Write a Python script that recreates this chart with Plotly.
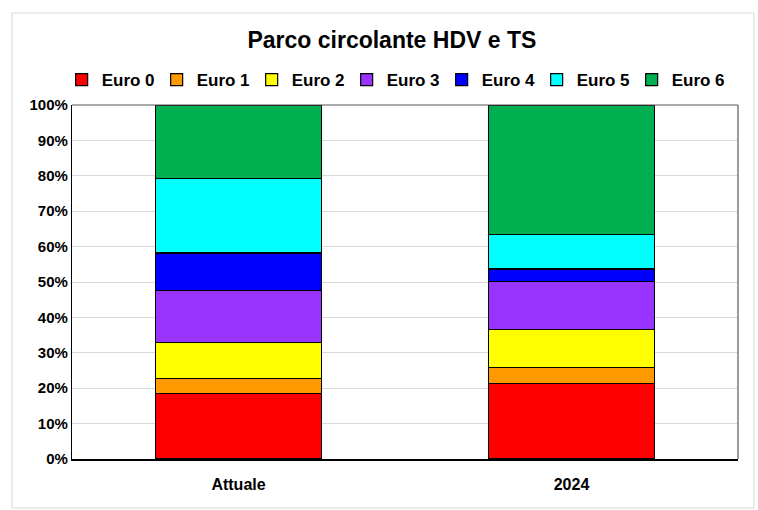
import plotly.graph_objects as go

categories = ["Attuale", "2024"]
series_names = ["Euro 0", "Euro 1", "Euro 2", "Euro 3", "Euro 4", "Euro 5", "Euro 6"]
euro0 = [18.6, 21.3]
euro1 = [4.2, 4.5]
euro2 = [10.2, 10.7]
euro3 = [14.5, 13.6]
euro4 = [10.7, 3.6]
euro5 = [21.0, 9.8]
euro6 = [20.8, 36.5]
colors = ["#FF0000", "#FF9900", "#FFFF00", "#9933FF", "#0000FF", "#00FFFF", "#00B050"]
tick_vals = [0, 10, 20, 30, 40, 50, 60, 70, 80, 90, 100]
tick_text = [f"{v}%" for v in tick_vals]

font_family = "Liberation Sans, Arial, sans-serif"

fig = go.Figure()
for name, vals, col in zip(series_names, [euro0, euro1, euro2, euro3, euro4, euro5, euro6], colors):
    fig.add_trace(go.Bar(
        name=f"<b>{name}</b>", x=categories, y=vals,
        marker=dict(color=col, line=dict(color="#000000", width=1.2)),
    ))

fig.update_layout(
    barmode="stack",
    bargap=0.5,
    width=758, height=510,
    margin=dict(l=72, r=20, t=105, b=51, autoexpand=False),
    paper_bgcolor="white",
    plot_bgcolor="white",
    font=dict(family=font_family, color="#000000"),
    title=dict(text="<b>Parco circolante HDV e TS</b>", x=0.517, xanchor="center",
               y=0.922, yanchor="middle", font=dict(size=23, family=font_family)),
    legend=dict(orientation="h", xref="container", x=0.52, xanchor="center",
                yref="container", y=0.843, yanchor="middle",
                font=dict(size=17, family=font_family), traceorder="normal",
                itemwidth=30, tracegroupgap=0, bgcolor="rgba(0,0,0,0)",
                entrywidth=50, entrywidthmode="pixels"),
    showlegend=True,
    xaxis=dict(showline=True, linecolor="#000000", linewidth=1.5, mirror=False,
               tickfont=dict(size=16, family=font_family), ticks="",
               ticklabelstandoff=10,
               tickprefix="<b>", ticksuffix="</b>"),
    yaxis=dict(range=[0, 100], tickvals=tick_vals, ticktext=[f"<b>{t}</b>" for t in tick_text],
               showgrid=True, gridcolor="#D9D9D9", gridwidth=1,
               showline=True, linecolor="#000000", linewidth=1.2,
               tickfont=dict(size=15, family=font_family), ticks="", zeroline=False),
)

# right edge and top of plot frame
fig.add_shape(type="line", xref="paper", yref="paper", x0=1, x1=1, y0=0, y1=1,
              line=dict(color="#595959", width=1.2))
fig.add_shape(type="line", xref="paper", yref="paper", x0=0, x1=1, y0=1, y1=1,
              line=dict(color="#595959", width=1.2))
# outer chart border
fig.add_shape(type="rect", xref="paper", yref="paper",
              x0=-60 / 666, x1=1 + 16 / 666, y0=-49 / 354, y1=1 + 92 / 354,
              line=dict(color="#D9D9D9", width=1), layer="below")

fig.write_html("out.html")
